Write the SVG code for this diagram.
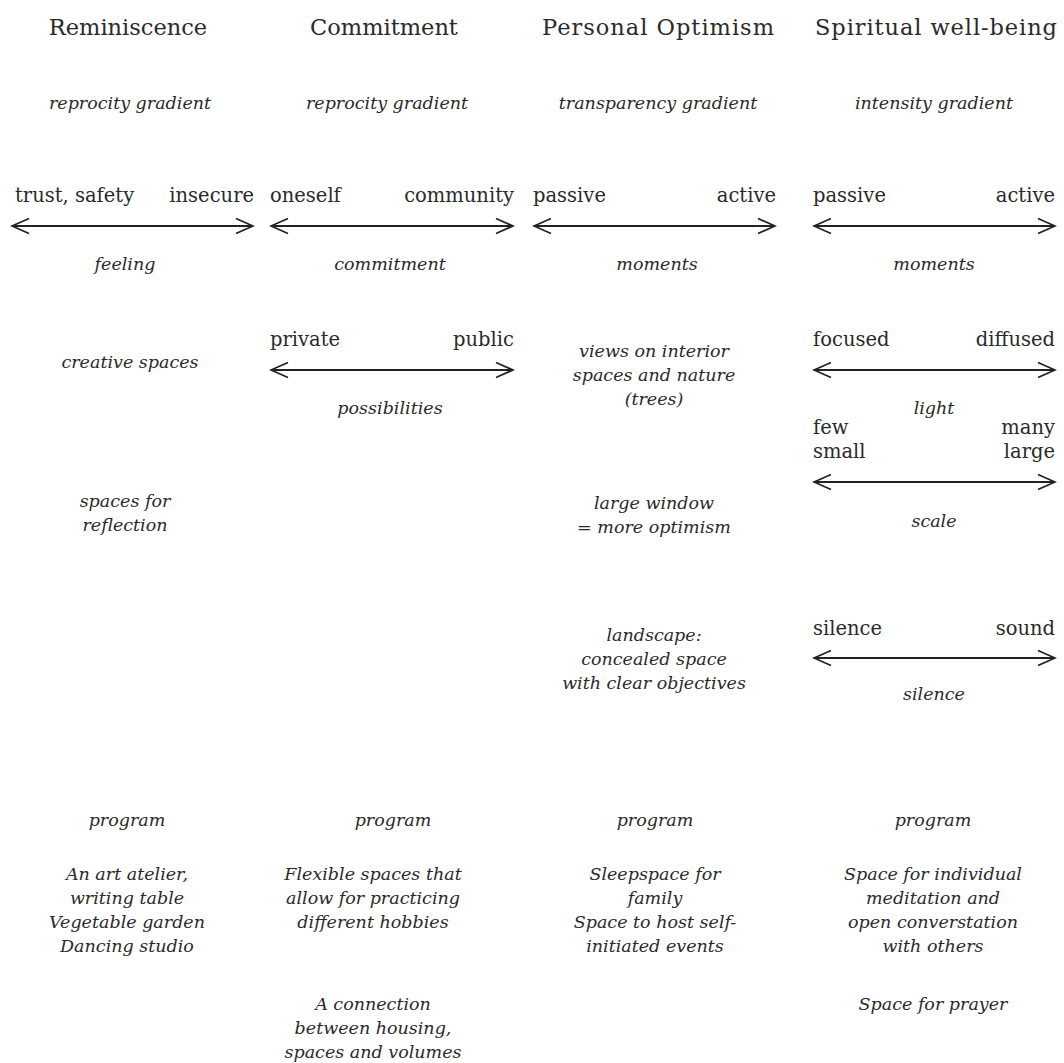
<svg xmlns="http://www.w3.org/2000/svg" width="1064" height="1063" viewBox="0 0 1064 1063">
<defs>
<marker id="ah" viewBox="0 0 20 20" refX="18" refY="10" markerWidth="20" markerHeight="20" markerUnits="userSpaceOnUse" orient="auto-start-reverse">
<path d="M1,2.5 L18,10 L1,17.5" fill="none" stroke="#222" stroke-width="1.8"/>
</marker>
<style>
text{fill:#2a2a2a;font-family:"DejaVu Serif",serif;text-anchor:middle}
.h{font-size:22.5px}
.l{font-size:19.5px}
.i{font-size:17.5px;font-style:italic}
.s{text-anchor:start}
.e{text-anchor:end}
.ar{stroke:#222;stroke-width:1.8;fill:none;marker-start:url(#ah);marker-end:url(#ah)}
</style>
</defs>
<rect width="1064" height="1063" fill="#fff"/>
<g id="col1">
<text class="h" x="128" y="35">Reminiscence</text>
<text class="i" x="130" y="109">reprocity gradient</text>
<text class="l s" x="15" y="202">trust, safety</text>
<text class="l e" x="254" y="202">insecure</text>
<text class="i" x="125" y="270">feeling</text>
<text class="i" x="130" y="368">creative spaces</text>
<text class="i" x="125" y="507">spaces for</text>
<text class="i" x="125" y="531">reflection</text>
<text class="i" x="127" y="826">program</text>
<text class="i" x="127" y="880">An art atelier,</text>
<text class="i" x="127" y="904">writing table</text>
<text class="i" x="127" y="928">Vegetable garden</text>
<text class="i" x="127" y="952">Dancing studio</text>
</g>
<g id="col2">
<text class="h" x="384" y="35">Commitment</text>
<text class="i" x="387" y="109">reprocity gradient</text>
<text class="l s" x="270" y="202">oneself</text>
<text class="l e" x="514" y="202">community</text>
<text class="i" x="390" y="270">commitment</text>
<text class="l s" x="270" y="346">private</text>
<text class="l e" x="514" y="346">public</text>
<text class="i" x="390" y="414">possibilities</text>
<text class="i" x="393" y="826">program</text>
<text class="i" x="373" y="880">Flexible spaces that</text>
<text class="i" x="373" y="904">allow for practicing</text>
<text class="i" x="373" y="928">different hobbies</text>
<text class="i" x="373" y="1010">A connection</text>
<text class="i" x="373" y="1034">between housing,</text>
<text class="i" x="373" y="1058">spaces and volumes</text>
</g>
<g id="col3">
<text class="h" x="658" y="35" textLength="232" lengthAdjust="spacing">Personal Optimism</text>
<text class="i" x="658" y="109">transparency gradient</text>
<text class="l s" x="533" y="202">passive</text>
<text class="l e" x="776" y="202">active</text>
<text class="i" x="657" y="270">moments</text>
<text class="i" x="654" y="357">views on interior</text>
<text class="i" x="654" y="381">spaces and nature</text>
<text class="i" x="654" y="405">(trees)</text>
<text class="i" x="654" y="509">large window</text>
<text class="i" x="654" y="533">= more optimism</text>
<text class="i" x="654" y="641">landscape:</text>
<text class="i" x="654" y="665">concealed space</text>
<text class="i" x="654" y="689">with clear objectives</text>
<text class="i" x="655" y="826">program</text>
<text class="i" x="655" y="880">Sleepspace for</text>
<text class="i" x="655" y="904">family</text>
<text class="i" x="655" y="928">Space to host self-</text>
<text class="i" x="655" y="952">initiated events</text>
</g>
<g id="col4">
<text class="h" x="936" y="35" textLength="242" lengthAdjust="spacing">Spiritual well-being</text>
<text class="i" x="934" y="109">intensity gradient</text>
<text class="l s" x="813" y="202">passive</text>
<text class="l e" x="1055" y="202">active</text>
<text class="i" x="934" y="270">moments</text>
<text class="l s" x="813" y="346">focused</text>
<text class="l e" x="1055" y="346">diffused</text>
<text class="i" x="934" y="414">light</text>
<text class="l s" x="813" y="434">few</text>
<text class="l s" x="813" y="458">small</text>
<text class="l e" x="1055" y="434">many</text>
<text class="l e" x="1055" y="458">large</text>
<text class="i" x="934" y="527">scale</text>
<text class="l s" x="813" y="635">silence</text>
<text class="l e" x="1055" y="635">sound</text>
<text class="i" x="934" y="700">silence</text>
<text class="i" x="933" y="826">program</text>
<text class="i" x="933" y="880">Space for individual</text>
<text class="i" x="933" y="904">meditation and</text>
<text class="i" x="933" y="928">open converstation</text>
<text class="i" x="933" y="952">with others</text>
<text class="i" x="933" y="1010">Space for prayer</text>
</g>
<g id="connectors">
<line class="ar" x1="12" y1="226" x2="253" y2="226"/>
<line class="ar" x1="271" y1="226" x2="513" y2="226"/>
<line class="ar" x1="534" y1="226" x2="775" y2="226"/>
<line class="ar" x1="814" y1="226" x2="1055" y2="226"/>
<line class="ar" x1="271" y1="370" x2="513" y2="370"/>
<line class="ar" x1="814" y1="370" x2="1055" y2="370"/>
<line class="ar" x1="814" y1="482" x2="1055" y2="482"/>
<line class="ar" x1="814" y1="658" x2="1055" y2="658"/>
</g>
</svg>
